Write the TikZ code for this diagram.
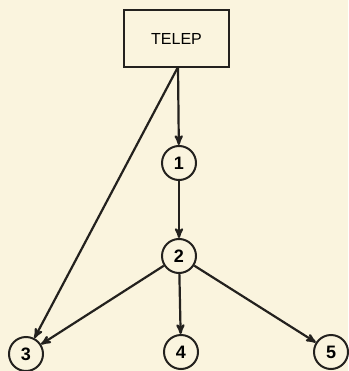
\documentclass[tikz,border=0pt]{standalone}
\usepackage{fontspec}
\setmainfont{Liberation Sans}
\usetikzlibrary{arrows}
\definecolor{paper}{RGB}{250,244,222}
\definecolor{ink}{RGB}{35,33,30}

\begin{document}
\begin{tikzpicture} [x = 1pt, y = -1pt, >= stealth', line width = 2.2pt,
  blk/.style = {draw = ink, line width = 1.6pt, minimum width = 105pt, minimum height = 57pt,
    font = \fontsize{16}{18}\selectfont},
  num/.style = {circle, draw = ink, line width = 2pt, minimum size = 34pt, inner sep = 0pt,
    font = \fontsize{18}{20}\selectfont\bfseries}]
\fill[paper] (0,0) rectangle (348,371);
\useasboundingbox (0,0) rectangle (348,371);
\node[blk](telep) at (176.5,38.5) {TELEP};
\coordinate (out) at (178,67);
\node[num](n1) at (179,163) {1};
\node[num](n2) at (179,256) {2};
\node[num](n3) at (26,354) {3};
\node[num](n4) at (181,352) {4};
\node[num](n5) at (331,352) {5};
\draw[->, ink] (out) -- (n1);
\draw[->, ink] (out) -- (n3);
\draw[->, ink] (n1) -- (n2);
\draw[->, ink] (n2) -- (n3);
\draw[->, ink] (n2) -- (n4);
\draw[->, ink] (n2) -- (n5);
\end{tikzpicture}
\end{document}
